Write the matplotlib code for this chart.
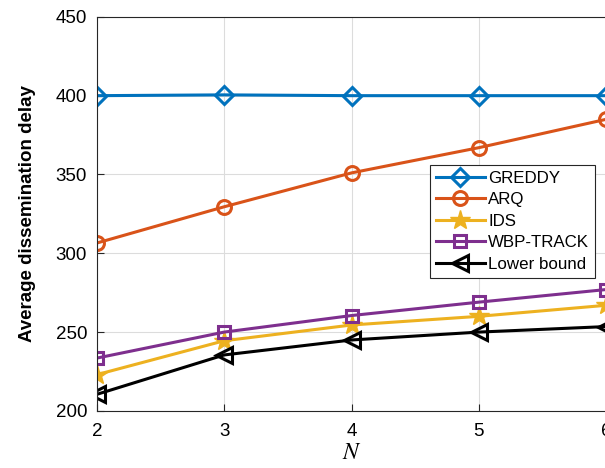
import matplotlib.pyplot as plt

plt.rcParams['font.family'] = ['Liberation Sans', 'DejaVu Sans']
plt.rcParams['mathtext.fontset'] = 'stix'

N = [2, 3, 4, 5, 6]
greddy = [400, 400.5, 400, 400, 400]
arq = [306.5, 329.5, 351, 367, 385]
ids = [223, 244.5, 254.5, 260, 267]
wbp = [233.5, 250, 260.5, 269, 277]
lower = [210.5, 235.5, 245, 250, 253.5]

fig = plt.figure(figsize=(6.05, 4.68), dpi=100)
ax = fig.add_axes([0.160, 0.122, 0.842, 0.842])

lw = 2.2
ax.plot(N, greddy, '-D', color='#0072BD', lw=lw, ms=9, mfc='none', mew=2.2, label='GREDDY')
ax.plot(N, arq, '-o', color='#D95319', lw=lw, ms=10, mfc='none', mew=2.2, label='ARQ')
ax.plot(N, ids, '-*', color='#EDB120', lw=lw, ms=15, label='IDS')
ax.plot(N, wbp, '-s', color='#7E2F8E', lw=lw, ms=8, mfc='none', mew=2.2, label='WBP-TRACK')
ax.plot(N, lower, '-<', color='black', lw=lw, ms=11, mfc='none', mew=2.2, label='Lower bound')

ax.set_xlim(2, 6)
ax.set_ylim(200, 450)
ax.set_xticks(N)
ax.set_yticks(range(200, 451, 50))
ax.grid(True, color='#dcdcdc', lw=0.8)
ax.set_axisbelow(True)
ax.tick_params(direction='in', labelsize=13.5, length=5, color='#262626')
ax.tick_params(axis='x', pad=9)
ax.tick_params(axis='y', pad=7)
for s in ax.spines.values():
    s.set_color('#262626')

ax.set_xlabel('$N$', fontsize=17, labelpad=1)
ax.set_ylabel('Average dissemination delay', fontsize=13.5, fontweight='bold', labelpad=14)

leg = ax.legend(loc='upper left', bbox_to_anchor=(0.654, 0.624), fontsize=12.2,
                frameon=True, fancybox=False, edgecolor='#262626', framealpha=1,
                handlelength=2.9, handletextpad=0.2, borderpad=0.35, labelspacing=0.38,
                borderaxespad=0)
leg.get_frame().set_linewidth(0.8)

fig.savefig('out.png', dpi=100)
